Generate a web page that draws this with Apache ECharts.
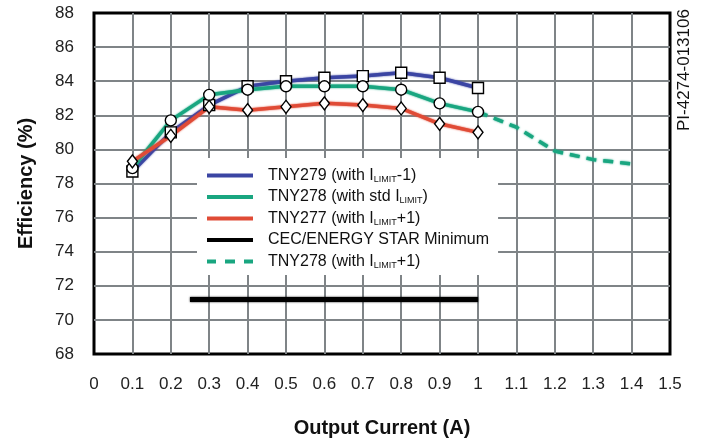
<!DOCTYPE html>
<html>
<head>
<meta charset="utf-8">
<script src="https://cdn.jsdelivr.net/npm/echarts@6/dist/echarts.min.js"></script>
<style>
  html, body { margin: 0; padding: 0; background: #fff; }
  #chart { width: 702px; height: 445px; }
</style>
</head>
<body>
<div id="chart"></div>
<script>
// 输出电流 (A)
var currents = [0.1, 0.2, 0.3, 0.4, 0.5, 0.6, 0.7, 0.8, 0.9, 1.0];
var tny279 = [78.7, 81.0, 82.6, 83.7, 84.0, 84.2, 84.3, 84.5, 84.2, 83.6];
var tny278 = [78.9, 81.7, 83.2, 83.5, 83.7, 83.7, 83.7, 83.5, 82.7, 82.2];
var tny277 = [79.3, 80.8, 82.5, 82.3, 82.5, 82.7, 82.6, 82.4, 81.5, 81.0];

// TNY278 (ILIMIT+1) 虚线
var extCurrents = [1.0, 1.1, 1.2, 1.3, 1.4];
var tny278Ext = [82.2, 81.3, 79.9, 79.4, 79.15];

// CEC/ENERGY STAR 最低效率
var cecCurrents = [0.25, 1.0];
var cecLevel = [71.2, 71.2];

var names = [
    'TNY279 (with ILIMIT-1)',
    'TNY278 (with std ILIMIT)',
    'TNY277 (with ILIMIT+1)',
    'CEC/ENERGY STAR Minimum',
    'TNY278 (with ILIMIT+1) ext'
];
var legendLabels = [
    'TNY279 (with I{s|LIMIT}-1)',
    'TNY278 (with std I{s|LIMIT})',
    'TNY277 (with I{s|LIMIT}+1)',
    'CEC/ENERGY STAR Minimum',
    'TNY278 (with I{s|LIMIT}+1)'
];

var blue = '#3b45a3';
var green = '#19a680';
var red = '#e04b36';
var font = 'Liberation Sans, Arial, sans-serif';

function pairs(xs, ys) {
    var out = [];
    for (var i = 0; i < xs.length; i++) out.push([xs[i], ys[i]]);
    return out;
}

function lineSeries(name, xs, ys, color, width, type) {
    return {
        name: name,
        type: 'line',
        data: pairs(xs, ys),
        symbol: 'none',
        color: color,
        z: 3,
        lineStyle: {color: color, width: width, type: type || 'solid',
            shadowColor: color, shadowBlur: 2},
        animation: false
    };
}

function markerSeries(xs, ys, symbol, size) {
    return {
        type: 'scatter',
        data: pairs(xs, ys),
        symbol: symbol,
        symbolSize: size,
        z: 5,
        itemStyle: {color: '#fff', borderColor: '#000', borderWidth: 1.4, opacity: 1},
        emphasis: {disabled: true},
        animation: false
    };
}

var chart = echarts.init(document.getElementById('chart'));

var option = {
    backgroundColor: '#fff',
    animation: false,
    grid: {
        left: 94, right: 32, top: 13, bottom: 91,
        outerBoundsMode: 'none',
        show: true, borderColor: '#000', borderWidth: 3, backgroundColor: 'transparent'
    },
    xAxis: {
        type: 'value', min: 0, max: 1.5, interval: 0.1,
        name: 'Output Current (A)', nameLocation: 'middle', nameGap: 64,
        nameTextStyle: {fontFamily: font, fontSize: 20, fontWeight: 'bold', color: '#111'},
        axisLine: {show: false}, axisTick: {show: false},
        axisLabel: {fontFamily: font, fontSize: 17, color: '#222', margin: 22},
        splitLine: {show: true, showMinLine: false, showMaxLine: false,
            lineStyle: {color: '#7f8487', width: 2}}
    },
    yAxis: {
        type: 'value', min: 68, max: 88, interval: 2,
        name: 'Efficiency (%)', nameLocation: 'middle', nameGap: 58, nameRotate: 90,
        nameTextStyle: {fontFamily: font, fontSize: 20, fontWeight: 'bold', color: '#111'},
        axisLine: {show: false}, axisTick: {show: false},
        axisLabel: {fontFamily: font, fontSize: 17, color: '#222', margin: 20},
        splitLine: {show: true, showMinLine: false, showMaxLine: false,
            lineStyle: {color: '#7f8487', width: 2}}
    },
    legend: {
        orient: 'vertical',
        left: 197, top: 158,
        padding: [9, 9, 5, 10],
        backgroundColor: '#fff',
        itemWidth: 46, itemHeight: 4, itemGap: 4.5,
        selectedMode: false,
        data: [
            {name: names[0], icon: 'rect'},
            {name: names[1], icon: 'rect'},
            {name: names[2], icon: 'rect'},
            {name: names[3], icon: 'rect'},
            {name: names[4], icon: 'path://M0 0h9v4h-9zM18 0h10v4h-10zM37 0h9v4h-9z'}
        ],
        formatter: function (name) {
            return legendLabels[names.indexOf(name)];
        },
        textStyle: {
            fontFamily: font, fontSize: 16, color: '#111', lineHeight: 17, padding: [0, 0, 0, 10],
            rich: {
                s: {fontFamily: font, fontSize: 9, color: '#111', lineHeight: 7, verticalAlign: 'bottom'}
            }
        }
    },
    graphic: [{
        type: 'text',
        x: 676, y: 131,
        rotation: Math.PI / 2,
        style: {text: 'PI-4274-013106', fontFamily: font, fontSize: 17, fill: '#111'}
    }],
    series: [
        lineSeries(names[0], currents, tny279, blue, 3.5),
        lineSeries(names[1], currents, tny278, green, 3.5),
        lineSeries(names[2], currents, tny277, red, 3.5),
        lineSeries(names[3], cecCurrents, cecLevel, '#000', 5),
        lineSeries(names[4], extCurrents, tny278Ext, green, 3.5, [10, 7]),
        markerSeries(currents, tny279, 'rect', 11),
        markerSeries(currents, tny278, 'circle', 11),
        markerSeries(currents, tny277, 'diamond', [10, 13])
    ]
};

chart.setOption(option);
</script>
</body>
</html>
